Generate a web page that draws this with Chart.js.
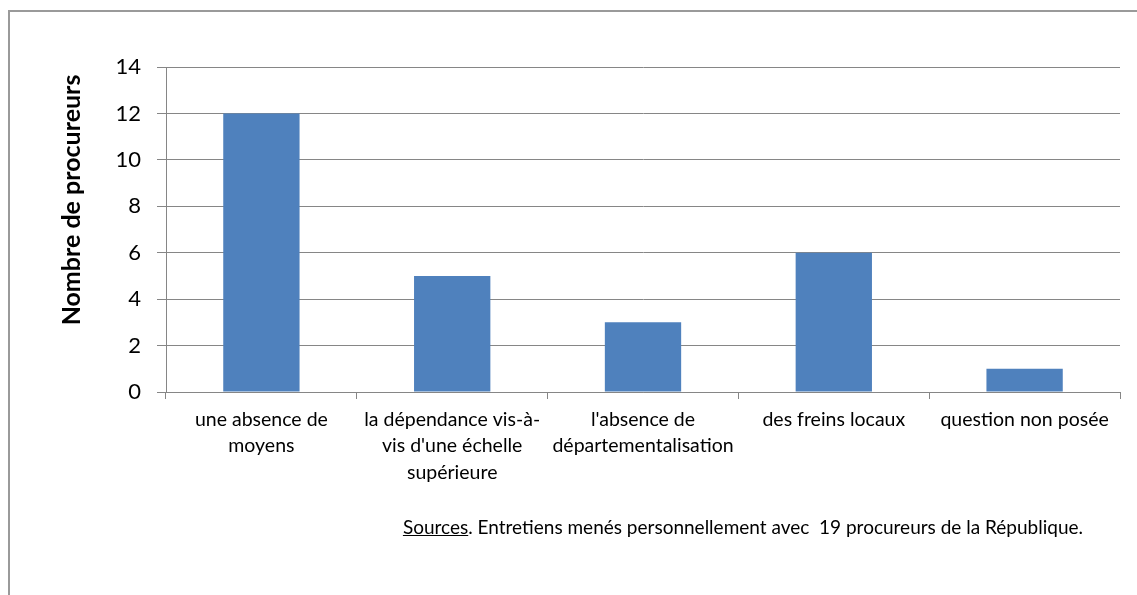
<!DOCTYPE html>
<html>
<head>
<meta charset="utf-8">
<script src="https://cdn.jsdelivr.net/npm/chart.js@4/dist/chart.umd.min.js"></script>
<style>
  html, body { margin: 0; padding: 0; background: #fff; }
  #wrap { position: relative; width: 1137px; height: 595px; overflow: hidden; }
  #frame { position: absolute; left: 8px; top: 10px; width: 1200px; height: 700px;
           border-left: 2px solid #9a9a9a; border-top: 2px solid #9a9a9a; pointer-events: none; }
  #src { position: absolute; right: 54px; top: 515px; font-family: Lato, "Open Sans", sans-serif;
         font-size: 19px; line-height: 24px; color: #000; white-space: pre; }
  #src u { text-decoration: underline; }
</style>
</head>
<body>
<div id="wrap">
  <canvas id="c" width="1137" height="595"></canvas>
  <div id="frame"></div>
  <div id="src"></div>
</div>
<script>
const categories = [
  ["une absence de", "moyens"],
  ["la dépendance vis-à-", "vis d'une échelle", "supérieure"],
  ["l'absence de", "départementalisation"],
  "des freins locaux",
  "question non posée"
];
const values = [12, 5, 3, 6, 1];
const yTicks = [0, 2, 4, 6, 8, 10, 12, 14];
const yTitle = "Nombre de procureurs";
const sourceLabel = "Sources";
const sourceText = ". Entretiens menés personnellement avec  19 procureurs de la République.";

const srcEl = document.getElementById('src');
const u = document.createElement('u');
u.textContent = sourceLabel;
srcEl.appendChild(u);
srcEl.appendChild(document.createTextNode(sourceText));

const FONT = "Lato, 'Open Sans', sans-serif";
const GRID = '#868686';

const yTitlePlugin = {
  id: 'yTitle',
  afterDraw(chart) {
    const ctx = chart.ctx;
    ctx.save();
    ctx.translate(72, 200);
    ctx.rotate(-Math.PI / 2);
    ctx.font = "bold 25px " + FONT;
    ctx.fillStyle = '#000';
    ctx.textAlign = 'center';
    ctx.textBaseline = 'middle';
    ctx.fillText(yTitle, 0, 0);
    ctx.restore();
  }
};

new Chart(document.getElementById('c'), {
  type: 'bar',
  data: {
    labels: categories,
    datasets: [{
      data: values,
      backgroundColor: '#4F81BD',
      borderWidth: 0,
      categoryPercentage: 0.8,
      barPercentage: 0.5
    }]
  },
  options: {
    responsive: false,
    animation: false,
    devicePixelRatio: 1,
    layout: { padding: { left: 0, top: 67, right: 17, bottom: 0 } },
    plugins: { legend: { display: false }, tooltip: { enabled: false } },
    scales: {
      x: {
        grid: { display: true, drawOnChartArea: false, drawTicks: true, tickLength: 7, color: GRID, offset: true },
        border: { display: true, color: GRID, width: 1 },
        ticks: {
          color: '#000', font: { family: FONT, size: 19.5, lineHeight: 1.34 },
          maxRotation: 0, minRotation: 0, autoSkip: false, padding: 8
        },
        afterFit(scale) { scale.height = 203; }
      },
      y: {
        min: 0, max: 14,
        afterBuildTicks(scale) { scale.ticks = yTicks.map(v => ({ value: v })); },
        grid: { color: GRID, tickLength: 9, drawTicks: true },
        border: { display: true, color: GRID, width: 1 },
        ticks: { color: '#000', font: { family: FONT, size: 22 }, padding: 16 },
        afterFit(scale) { scale.width = 166; }
      }
    }
  },
  plugins: [yTitlePlugin]
});
</script>
</body>
</html>
